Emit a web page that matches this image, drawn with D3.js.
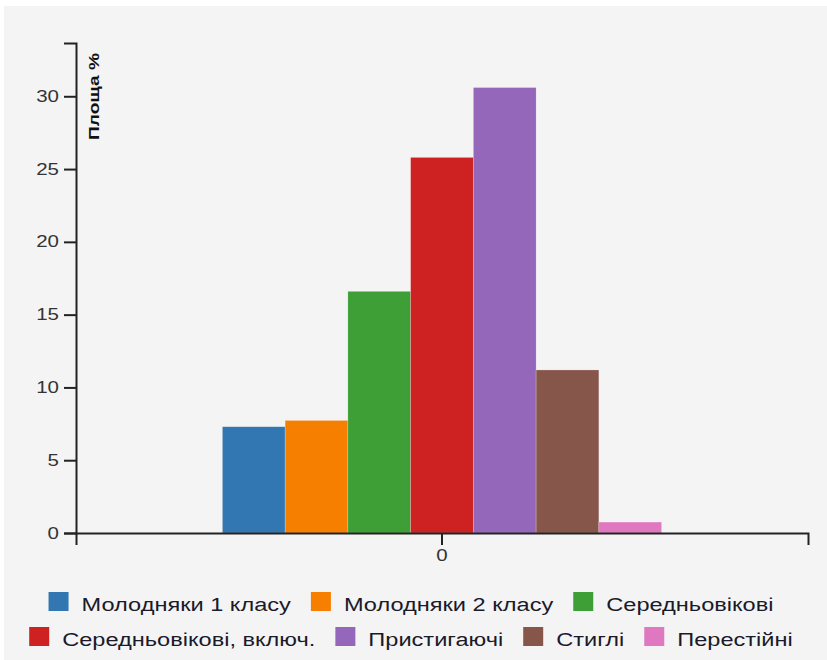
<!DOCTYPE html>
<html><head><meta charset="utf-8">
<script src="https://cdn.jsdelivr.net/npm/d3@7"></script>
<style>
body{margin:0;background:#fff;}
svg{display:block;font-family:"Liberation Sans",Arial,sans-serif;}
</style></head>
<body>
<svg id="c" width="827" height="660"></svg>
<script>
const groups = ["0"];
const categories = ["Молодняки 1 класу","Молодняки 2 класу","Середньовікові","Середньовікові, включ.","Пристигаючі","Стиглі","Перестійні"];
const values = [7.3, 7.73, 16.6, 25.8, 30.6, 11.2, 0.75];
const colors = ["#3277b2","#f77f00","#3d9f35","#ce2121","#9467ba","#87564b","#df78c1"];
const yLabel = "Площа %";
const legendRows = [[0,1,2],[3,4,5,6]];
const stretch = 1.28;
const legendStretch = 1.31;

const svg = d3.select("#c");
svg.append("rect").attr("x",4).attr("y",6).attr("width",823).attr("height",654).attr("fill","#f4f4f4");

const m = {left:76, right:808, top:43, bottom:533};
const y = d3.scaleLinear().domain([0, d3.max(values)*1.1]).range([m.bottom, m.top]);
const x0 = d3.scaleBand().domain(groups).range([m.left, m.right]).paddingInner(0).paddingOuter(1/3);
const x1 = d3.scaleBand().domain(categories).range([0, x0.bandwidth()]);
const color = d3.scaleOrdinal().domain(categories).range(colors);

// bars
const g = svg.append("g").selectAll("g").data(groups).join("g")
  .attr("transform", d => `translate(${x0(d)},0)`);
g.selectAll("rect").data(categories.map((c,i)=>({c, v: values[i]}))).join("rect")
  .attr("x", d => x1(d.c)).attr("width", x1.bandwidth())
  .attr("y", d => y(d.v)).attr("height", d => y(0) - y(d.v))
  .attr("fill", d => color(d.c))
  .attr("stroke", "#ffffff").attr("stroke-opacity", 0.35).attr("stroke-width", 0.6);

// axes
const yAxis = svg.append("g").attr("transform", `translate(${m.left},0)`)
  .call(d3.axisLeft(y).ticks(7).tickSize(12).tickPadding(5));
const xAxis = svg.append("g").attr("transform", `translate(0,${m.bottom})`)
  .call(d3.axisBottom(x0).tickSize(12).tickPadding(5));
[yAxis, xAxis].forEach(a => {
  a.selectAll("path,line").attr("stroke","#222").attr("stroke-width",2);
  a.selectAll("text").attr("fill","#333").style("font-size","16px").style("font-family","'Liberation Sans',Arial,sans-serif");
});
yAxis.selectAll(".tick text").each(function(){
  const t = d3.select(this); const xx = +t.attr("x");
  t.attr("x",0).attr("transform",`translate(${xx},0) scale(${stretch},1)`);
});
xAxis.selectAll(".tick text").attr("transform",`scale(${stretch},1)`);

svg.append("text").attr("transform", `translate(99,53) rotate(-90) scale(${stretch},1)`)
  .attr("text-anchor","end").attr("fill","#111")
  .style("font-size","15px").style("font-weight","bold").text(yLabel);

// legend
const rowBase = [611, 646];
const sq = 20, gapTxt = 13, gapItem = 20, cx = 411;
legendRows.forEach((row, r) => {
  const lg = svg.append("g");
  let cur = 0;
  row.forEach(i => {
    const it = lg.append("g").attr("transform", `translate(${cur},0)`);
    it.append("rect").attr("x",0).attr("y", rowBase[r]-19).attr("width",sq).attr("height",19).attr("fill", colors[i]);
    const t = it.append("text").attr("transform", `translate(${sq+gapTxt},${rowBase[r]}) scale(${legendStretch},1)`)
      .attr("fill","#1a1a2a").style("font-size","18px").text(categories[i]);
    cur += sq + gapTxt + t.node().getComputedTextLength()*legendStretch + gapItem;
  });
  const w = cur - gapItem;
  lg.attr("transform", `translate(${cx - w/2},0)`);
});
</script>
</body></html>
